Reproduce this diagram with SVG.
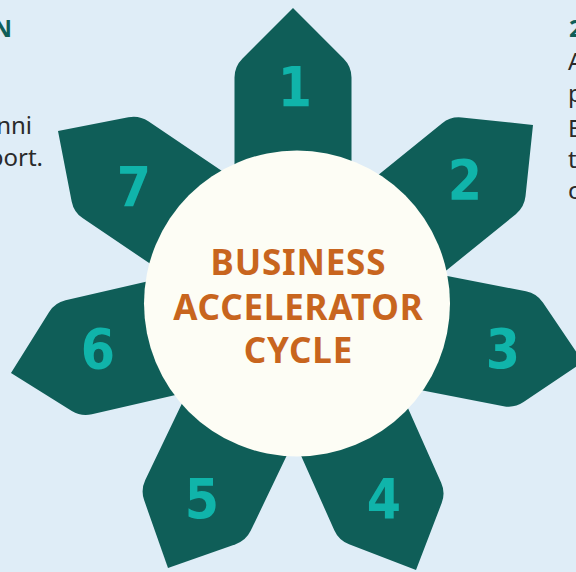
<svg xmlns="http://www.w3.org/2000/svg" width="576" height="572" viewBox="0 0 576 572">
  <defs>
    <style>
      .petal { fill: #0F5E58; }
      .num { font-family: "DejaVu Sans", "Liberation Sans", sans-serif; font-weight: 700; font-size: 56px; fill: #10B4AA; text-anchor: middle; }
      .hub { fill: #FDFDF5; }
      .title { font-family: "Noto Sans", "Open Sans", sans-serif; font-weight: 700; font-size: 35px; letter-spacing: 0.8px; fill: #C8651E; text-anchor: middle; }
      .head { font-family: "Noto Sans", "Open Sans", sans-serif; font-weight: 700; font-size: 24px; fill: #0F5E58; }
      .body { font-family: "Noto Sans", "Open Sans", sans-serif; font-size: 24px; fill: #2A2A2A; }
    </style>
    <!-- arrow-shaped petal: tip at origin, body extends toward the hub (+y) -->
    <path id="petal" d="M0,0 L50.7,50.7 Q58.5,58.5 58.5,69.5 L58.5,250 L-58.5,250 L-58.5,69.5 Q-58.5,58.5 -50.7,50.7 Z"/>
  </defs>

  <rect width="576" height="572" fill="#DFEDF7"/>

  <!-- side captions, running off the edges -->
  <text class="head" x="12" y="37" text-anchor="end">N</text>
  <text class="body" x="32" y="134" text-anchor="end">nni</text>
  <text class="body" x="43" y="166" text-anchor="end">port.</text>

  <text class="head" x="569" y="37">2</text>
  <text class="body" x="568" y="70">A</text>
  <text class="body" x="568" y="102">p</text>
  <text class="body" x="568" y="137">E</text>
  <text class="body" x="568" y="168">t</text>
  <text class="body" x="568" y="199">c</text>

  <!-- petals, each with its step number -->
  <g id="step-1"><use href="#petal" class="petal" transform="translate(293,8) rotate(0)"/><text class="num" transform="translate(295,106) scale(0.88,1)">1</text></g>
  <g id="step-2"><use href="#petal" class="petal" transform="translate(533,125) rotate(51)"/><text class="num" transform="translate(465,199) scale(0.88,1)">2</text></g>
  <g id="step-3"><use href="#petal" class="petal" transform="translate(583,362) rotate(101)"/><text class="num" transform="translate(503,368) scale(0.88,1)">3</text></g>
  <g id="step-4"><use href="#petal" class="petal" transform="translate(416,570) rotate(156)"/><text class="num" transform="translate(384,518) scale(0.88,1)">4</text></g>
  <g id="step-5"><use href="#petal" class="petal" transform="translate(168,568) rotate(205.6)"/><text class="num" transform="translate(202,518) scale(0.88,1)">5</text></g>
  <g id="step-6"><use href="#petal" class="petal" transform="translate(11,373) rotate(257)"/><text class="num" transform="translate(98,368) scale(0.88,1)">6</text></g>
  <g id="step-7"><use href="#petal" class="petal" transform="translate(58,131) rotate(304)"/><text class="num" transform="translate(134,206) scale(0.88,1)">7</text></g>

  <!-- hub -->
  <g id="hub">
    <circle class="hub" cx="297" cy="303.5" r="153"/>
    <text class="title" x="298.4" y="275">BUSINESS</text>
    <text class="title" x="298.4" y="320">ACCELERATOR</text>
    <text class="title" x="298.4" y="363">CYCLE</text>
  </g>
</svg>
